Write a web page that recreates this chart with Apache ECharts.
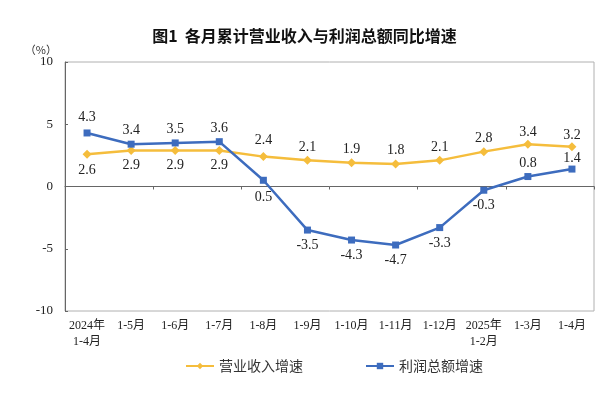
<!DOCTYPE html>
<html><head><meta charset="utf-8">
<script src="https://cdn.jsdelivr.net/npm/echarts@6/dist/echarts.min.js"></script>
<style>html,body{margin:0;padding:0;background:#fff}#c{width:609px;height:395px}</style>
</head><body><div id="c"></div>
<script>
var categories = ['2024年\n1-4月','1-5月','1-6月','1-7月','1-8月','1-9月','1-10月','1-11月','1-12月','2025年\n1-2月','1-3月','1-4月'];
var revenueGrowth = [2.6, 2.9, 2.9, 2.9, 2.4, 2.1, 1.9, 1.8, 2.1, 2.8, 3.4, 3.2];
var profitGrowth = [4.3, 3.4, 3.5, 3.6, 0.5, -3.5, -4.3, -4.7, -3.3, -0.3, 0.8, 1.4];
var yTicks = [-10, -5, 0, 5, 10];
var revenueLabelPos = ['bottom','bottom','bottom','bottom','top','top','top','top','top','top','top','top'];
var profitLabelPos = ['top','top','top','top','bottom','bottom','bottom','bottom','bottom','bottom','top','top'];
var revenueLabelDist = [5, 3, 3, 3, 5, 2, 2, 2, 2, 2, 0, 0];
var profitLabelDist = [5, 3, 3, 3, 7, 5, 5, 5, 5, 5, 3, 0];

var serif = '"Liberation Serif","Noto Sans CJK SC",serif';
var cjk = '"Noto Sans CJK SC",sans-serif';
var yellow = '#F5BD3C', blue = '#3D6CBE';

function mk(vals, pos, dist) {
  return vals.map(function(v, i){
    return {value: v, label: {position: pos[i], distance: dist[i]}};
  });
}

var chart = echarts.init(document.getElementById('c'));
chart.setOption({
  animation: false,
  title: {
    text: '图1  各月累计营业收入与利润总额同比增速',
    left: 'center', top: 23,
    textStyle: {fontFamily: cjk, fontSize: 16, fontWeight: 'bold', color: '#111'}
  },
  grid: {left: 65, right: 15, top: 62, bottom: 84, show: true, borderColor: '#b0b0b0', borderWidth: 1},
  legend: {
    left: 180, top: 354, itemWidth: 28, itemHeight: 8, itemGap: 62,
    textStyle: {fontFamily: cjk, fontSize: 14, color: '#333'},
    data: ['营业收入增速', '利润总额增速']
  },
  xAxis: [{
    type: 'category', data: categories, position: 'bottom',
    axisLine: {show: false, onZero: false}, axisTick: {show: false},
    axisLabel: {fontFamily: serif, fontSize: 12, color: '#222', margin: 7, lineHeight: 16, interval: 0}
  }, {
    type: 'category', data: categories,
    axisLine: {show: true, onZero: true, lineStyle: {color: '#666', width: 1}},
    axisTick: {show: true, inside: true, length: 3, lineStyle: {color: '#666'}},
    axisLabel: {show: false}
  }],
  yAxis: {
    type: 'value', min: -10, max: 10, interval: 5,
    axisLine: {show: true, lineStyle: {color: '#666'}},
    axisTick: {show: true, inside: true, length: 3, lineStyle: {color: '#666'}},
    splitLine: {show: false},
    axisLabel: {fontFamily: serif, fontSize: 13, color: '#222', margin: 12,
      formatter: function(v){ return yTicks.indexOf(v) >= 0 ? String(v) : ''; }},
    name: '（%）', nameLocation: 'end', nameGap: 2,
    nameTextStyle: {fontFamily: cjk, fontSize: 11, color: '#333', align: 'right', padding: [0, 8, 0, 0]}
  },
  series: [{
    name: '营业收入增速', type: 'line', xAxisIndex: 0,
    data: mk(revenueGrowth, revenueLabelPos, revenueLabelDist),
    symbol: 'diamond', symbolSize: 9,
    lineStyle: {color: yellow, width: 2.5},
    itemStyle: {color: yellow},
    label: {show: true, fontFamily: serif, fontSize: 14, color: '#222'},
    z: 2
  }, {
    name: '利润总额增速', type: 'line', xAxisIndex: 0,
    data: mk(profitGrowth, profitLabelPos, profitLabelDist),
    symbol: 'rect', symbolSize: 7,
    lineStyle: {color: blue, width: 2.5},
    itemStyle: {color: blue},
    label: {show: true, fontFamily: serif, fontSize: 14, color: '#222'},
    z: 3
  }]
});
</script></body></html>
